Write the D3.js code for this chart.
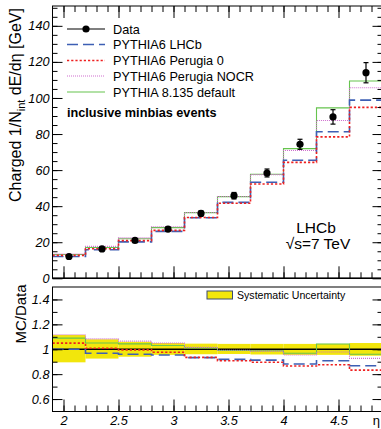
<!DOCTYPE html>
<html>
<head>
<meta charset="utf-8">
<script src="https://cdn.jsdelivr.net/npm/d3@7/dist/d3.min.js"></script>
<style>
  html, body { margin: 0; padding: 0; background: #fff; }
  svg { display: block; font-family: "Liberation Sans", Arial, sans-serif; }
</style>
</head>
<body>
<svg id="chart" width="381" height="429"></svg>
<script>
// ---------- DATA ----------
const binEdges = [1.9, 2.2, 2.5, 2.8, 3.1, 3.4, 3.7, 4.0, 4.3, 4.6, 4.9];
const binCenters = [2.05, 2.35, 2.65, 2.95, 3.25, 3.55, 3.85, 4.15, 4.45, 4.75];

const dataValues = [12.1, 16.3, 21.0, 27.3, 36.0, 45.8, 58.4, 74.3, 89.5, 114.0];
const dataErrors = [0.6, 0.8, 1.0, 1.2, 1.4, 1.8, 2.2, 2.8, 4.0, 5.6];

const pythia6LHCb   = [12.1, 15.8, 20.2, 26.0, 33.6, 42.1, 53.3, 65.5, 81.3, 98.8];
const pythia6P0     = [12.7, 16.4, 20.9, 26.6, 33.7, 41.6, 52.3, 64.3, 78.4, 94.8];
const pythia6NOCR   = [13.5, 17.7, 22.4, 28.6, 36.5, 45.4, 57.5, 70.9, 87.5, 105.7];
const pythia8       = [13.2, 17.1, 21.9, 28.1, 36.4, 45.3, 57.7, 71.9, 94.5, 109.4];

const ratioLHCb = [1.000, 0.968, 0.960, 0.954, 0.933, 0.919, 0.913, 0.881, 0.908, 0.867];
const ratioP0   = [1.049, 1.008, 0.995, 0.976, 0.935, 0.908, 0.895, 0.865, 0.876, 0.832];
const ratioNOCR = [1.116, 1.083, 1.065, 1.049, 1.015, 0.992, 0.985, 0.954, 0.978, 0.927];
const ratioP8   = [1.089, 1.050, 1.043, 1.030, 1.010, 0.990, 0.988, 0.968, 1.042, 0.960];

const sysUp   = [1.115, 1.080, 1.060, 1.050, 1.045, 1.043, 1.043, 1.043, 1.043, 1.050];
const sysDown = [0.895, 0.925, 0.940, 0.955, 0.960, 0.962, 0.958, 0.955, 0.955, 0.948];

const xTicks = [2, 2.5, 3, 3.5, 4, 4.5];
const xTickLabels = ["2", "2.5", "3", "3.5", "4", "4.5"];
const topYTicks = [0, 20, 40, 60, 80, 100, 120, 140];
const topYTickLabels = ["0", "20", "40", "60", "80", "100", "120", "140"];
const ratioYTicks = [0.6, 0.8, 1.0, 1.2, 1.4];
const ratioYTickLabels = ["0.6", "0.8", "1", "1.2", "1.4"];

const seriesNames = ["Data", "PYTHIA6 LHCb", "PYTHIA6 Perugia 0", "PYTHIA6 Perugia NOCR", "PYTHIA 8.135 default"];

// ---------- STYLES ----------
const styles = {
  lhcb: { color: "#3d5fb4", width: 1.6, dash: "11,5" },
  p0:   { color: "#ee2020", width: 1.6, dash: "2.2,2" },
  nocr: { color: "#cf6fcf", width: 1.1, dash: "1,1" },
  p8:   { color: "#66c44e", width: 1.1, dash: null }
};

const svg = d3.select("#chart");
const FS = 12.7;

const x = d3.scaleLinear().domain([1.9, 4.9]).range([52.5, 382.5]);
const yTop = d3.scaleLinear().domain([0, 151]).range([278.3, 6]);
const yRat = d3.scaleLinear().domain([0.5, 1.5]).range([411.5, 287]);

function stepPoints(vals) {
  const pts = [];
  vals.forEach((v, i) => { pts.push([binEdges[i], v]); pts.push([binEdges[i + 1], v]); });
  return pts;
}
function drawHist(g, vals, yScale, st) {
  const line = d3.line().x(d => x(d[0])).y(d => yScale(d[1]));
  const p = g.append("path").attr("d", line(stepPoints(vals)))
    .attr("fill", "none").attr("stroke", st.color).attr("stroke-width", st.width);
  if (st.dash) p.attr("stroke-dasharray", st.dash);
}

// ---------- TOP PANEL ----------
const topG = svg.append("g");

drawHist(topG, pythia8, yTop, styles.p8);
drawHist(topG, pythia6NOCR, yTop, styles.nocr);
drawHist(topG, pythia6LHCb, yTop, styles.lhcb);
drawHist(topG, pythia6P0, yTop, styles.p0);

const ptsG = topG.append("g");
binCenters.forEach((c, i) => {
  const cx = x(c), v = dataValues[i], e = dataErrors[i];
  ptsG.append("line").attr("x1", cx).attr("x2", cx).attr("y1", yTop(v - e)).attr("y2", yTop(v + e))
    .attr("stroke", "#000").attr("stroke-width", 1.2);
  [v - e, v + e].forEach(t => ptsG.append("line").attr("x1", cx - 2.5).attr("x2", cx + 2.5)
    .attr("y1", yTop(t)).attr("y2", yTop(t)).attr("stroke", "#000").attr("stroke-width", 1.2));
  ptsG.append("circle").attr("cx", cx).attr("cy", yTop(v)).attr("r", 3.6).attr("fill", "#000");
});

function minorRange(a, b, s) { return d3.range(Math.round(a / s), Math.round(b / s) + 1).map(k => +(k * s).toFixed(4)); }
const xMinor = minorRange(1.9, 4.9, 0.1).filter(v => v > 1.9 && v < 4.9);

function addXTicks(g, y0, dir, labels) {
  const axMinor = (dir < 0 ? d3.axisBottom(x) : d3.axisTop(x)).tickValues(xMinor).tickSize(-6).tickFormat("");
  const axMajor = (dir < 0 ? d3.axisBottom(x) : d3.axisTop(x)).tickValues(xTicks).tickSize(-12).tickPadding(4)
    .tickFormat((d, i) => labels ? labels[i] : "");
  const gm = g.append("g").attr("transform", `translate(0,${y0})`).call(axMinor);
  const gM = g.append("g").attr("transform", `translate(0,${y0})`).call(axMajor);
  [gm, gM].forEach(a => { a.select(".domain").remove(); a.selectAll("line").attr("stroke", "#000"); });
  gM.selectAll("text").attr("font-size", FS).attr("font-style", "italic").attr("fill", "#000")
    .attr("font-family", "'Liberation Sans', Arial, sans-serif");
}
function addYTicks(g, yScale, x0, side, majors, labels, minorStep, dom) {
  const mk = side === "left" ? d3.axisLeft : d3.axisRight;
  const minors = minorRange(dom[0], dom[1], minorStep).filter(v => v > dom[0] && v < dom[1]);
  const gm = g.append("g").attr("transform", `translate(${x0},0)`).call(mk(yScale).tickValues(minors).tickSize(-5).tickFormat(""));
  const gM = g.append("g").attr("transform", `translate(${x0},0)`).call(mk(yScale).tickValues(majors).tickSize(-10).tickPadding(3)
    .tickFormat((d, i) => labels ? labels[i] : ""));
  [gm, gM].forEach(a => { a.select(".domain").remove(); a.selectAll("line").attr("stroke", "#000"); });
  gM.selectAll("text").attr("font-size", FS).attr("font-style", "italic").attr("fill", "#000")
    .attr("font-family", "'Liberation Sans', Arial, sans-serif");
}

addXTicks(topG, yTop(0), -1, null);
addXTicks(topG, yTop(151), 1, null);
addYTicks(topG, yTop, x(1.9), "left", topYTicks, topYTickLabels, 5, [0, 151]);
addYTicks(topG, yTop, x(4.9), "right", topYTicks, null, 5, [0, 151]);

topG.append("rect").attr("x", x(1.9)).attr("y", yTop(151)).attr("width", x(4.9) - x(1.9)).attr("height", yTop(0) - yTop(151))
  .attr("fill", "none").attr("stroke", "#000").attr("stroke-width", 1);
topG.append("line").attr("x1", x(1.9)).attr("x2", x(4.9)).attr("y1", yTop(0)).attr("y2", yTop(0))
  .attr("stroke", "#000").attr("stroke-width", 1.6);

// legend
const legX0 = 67, legX1 = 105, legTextX = 113;
const legRows = [29, 44.5, 60.5, 76, 92];
const leg = topG.append("g");
leg.append("line").attr("x1", legX0).attr("x2", legX1).attr("y1", legRows[0]).attr("y2", legRows[0])
  .attr("stroke", "#555").attr("stroke-width", 1.5);
leg.append("circle").attr("cx", (legX0 + legX1) / 2).attr("cy", legRows[0]).attr("r", 3.6).attr("fill", "#000");
const legStyles = [null, styles.lhcb, styles.p0, styles.nocr, styles.p8];
legStyles.forEach((st, i) => {
  if (st) {
    const l = leg.append("line").attr("x1", legX0).attr("x2", legX1).attr("y1", legRows[i]).attr("y2", legRows[i])
      .attr("stroke", st.color).attr("stroke-width", st.width);
    if (st.dash) l.attr("stroke-dasharray", st.dash);
  }
  leg.append("text").attr("x", legTextX).attr("y", legRows[i] + 4.6).attr("font-size", FS).attr("fill", "#000")
    .text(seriesNames[i]);
});
leg.append("text").attr("x", 67).attr("y", 116.5).attr("font-size", FS).attr("font-weight", "bold").attr("fill", "#000")
  .text("inclusive minbias events");

topG.append("text").attr("x", 316).attr("y", 233).attr("text-anchor", "middle").attr("font-size", 15.5).text("LHCb");
topG.append("text").attr("x", 318).attr("y", 249).attr("text-anchor", "middle").attr("font-size", 15.5).text("\u221As=7 TeV");

const yt = svg.append("text").attr("transform", "translate(21,105) rotate(-90)").attr("text-anchor", "middle")
  .attr("font-size", 16).attr("fill", "#000");
yt.append("tspan").text("Charged 1/N");
yt.append("tspan").attr("font-size", 11).attr("dy", 4).text("int");
yt.append("tspan").attr("dy", -4).text(" dE/d\u03B7 [GeV]");

// ---------- RATIO PANEL ----------
const rat = svg.append("g");
const band = rat.append("g");
binEdges.slice(0, -1).forEach((lo, i) => {
  band.append("rect").attr("x", x(lo)).attr("width", x(binEdges[i + 1]) - x(lo))
    .attr("y", yRat(sysUp[i])).attr("height", yRat(sysDown[i]) - yRat(sysUp[i]))
    .attr("fill", "#f2e60c");
});
rat.append("line").attr("x1", x(1.9)).attr("x2", x(4.9)).attr("y1", yRat(1)).attr("y2", yRat(1))
  .attr("stroke", "#000").attr("stroke-width", 1.5);

drawHist(rat, ratioP8, yRat, styles.p8);
drawHist(rat, ratioNOCR, yRat, styles.nocr);
drawHist(rat, ratioLHCb, yRat, styles.lhcb);
drawHist(rat, ratioP0, yRat, styles.p0);

addXTicks(rat, yRat(0.5), -1, xTickLabels);
addYTicks(rat, yRat, x(1.9), "left", ratioYTicks, ratioYTickLabels, 0.1, [0.5, 1.5]);
addYTicks(rat, yRat, x(4.9), "right", ratioYTicks, null, 0.1, [0.5, 1.5]);

rat.append("rect").attr("x", x(1.9)).attr("y", yRat(1.5)).attr("width", x(4.9) - x(1.9)).attr("height", yRat(0.5) - yRat(1.5))
  .attr("fill", "none").attr("stroke", "#000").attr("stroke-width", 1);

rat.append("rect").attr("x", 207).attr("y", 291).attr("width", 25.5).attr("height", 8)
  .attr("fill", "#f2e60c").attr("stroke", "#3a4a70").attr("stroke-width", 1);
rat.append("text").attr("x", 237).attr("y", 298.5).attr("font-size", 10.6).attr("fill", "#000").text("Systematic Uncertainty");

svg.append("text").attr("transform", "translate(26,314) rotate(-90)").attr("text-anchor", "middle")
  .attr("font-size", 15).attr("fill", "#000").text("MC/Data");

svg.append("text").attr("x", 380).attr("y", 425).attr("text-anchor", "end").attr("font-size", 13).attr("fill", "#000").text("\u03B7");
</script>
</body>
</html>
